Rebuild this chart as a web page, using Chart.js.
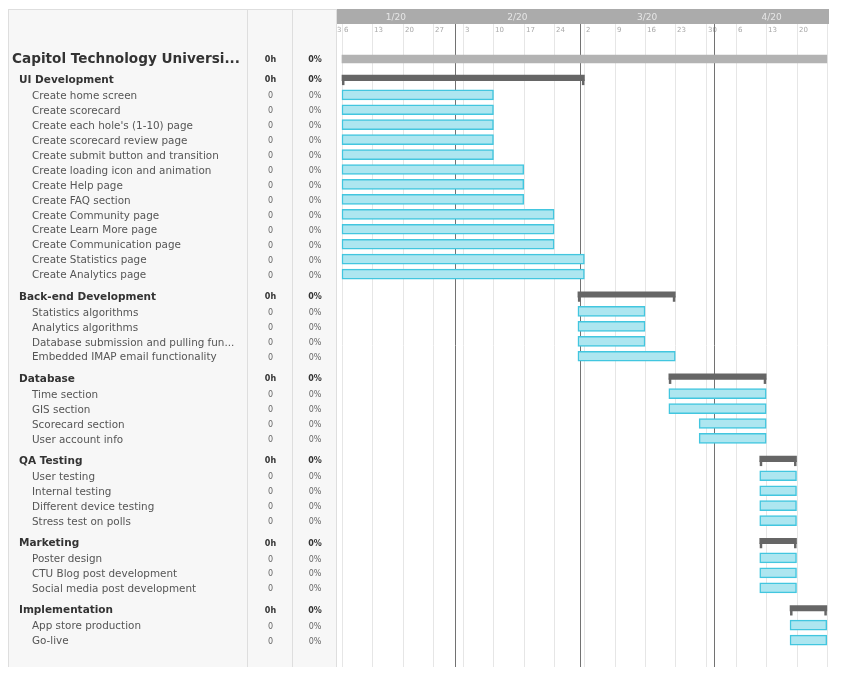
<!DOCTYPE html>
<html>
<head>
<meta charset="utf-8">
<script src="https://cdn.jsdelivr.net/npm/chart.js@4/dist/chart.umd.min.js"></script>
<style>
  html, body { margin: 0; padding: 0; background: #fff; }
  canvas { display: block; }
</style>
</head>
<body>
<canvas id="gantt" width="844" height="687"></canvas>
<script>
// all times are days since Mon 2020-01-06
const projectName = 'Capitol Technology Universi...';
const projectSpan = [0, 112];

const groupNames = ['UI Development', 'Back-end Development', 'Database', 'QA Testing', 'Marketing', 'Implementation'];
const groupStarts = [0, 54.5, 75.5, 96.5, 96.5, 103.5];
const groupEnds = [56, 77, 98, 105, 105, 112];

const taskNames = [
  ['Create home screen', 'Create scorecard', "Create each hole's (1-10) page", 'Create scorecard review page',
   'Create submit button and transition', 'Create loading icon and animation', 'Create Help page',
   'Create FAQ section', 'Create Community page', 'Create Learn More page', 'Create Communication page',
   'Create Statistics page', 'Create Analytics page'],
  ['Statistics algorithms', 'Analytics algorithms', 'Database submission and pulling fun...', 'Embedded IMAP email functionality'],
  ['Time section', 'GIS section', 'Scorecard section', 'User account info'],
  ['User testing', 'Internal testing', 'Different device testing', 'Stress test on polls'],
  ['Poster design', 'CTU Blog post development', 'Social media post development'],
  ['App store production', 'Go-live']
];
const taskStarts = [
  [0, 0, 0, 0, 0, 0, 0, 0, 0, 0, 0, 0, 0],
  [54.5, 54.5, 54.5, 54.5],
  [75.5, 75.5, 82.5, 82.5],
  [96.5, 96.5, 96.5, 96.5],
  [96.5, 96.5, 96.5],
  [103.5, 103.5]
];
const taskEnds = [
  [35, 35, 35, 35, 35, 42, 42, 42, 49, 49, 49, 56, 56],
  [70, 70, 70, 77],
  [98, 98, 98, 98],
  [105, 105, 105, 105],
  [105, 105, 105],
  [112, 112]
];
const hoursDone = 0;
const percentDone = 0;

// time header
const weekDays = [-7, 0, 7, 14, 21, 28, 35, 42, 49, 56, 63, 70, 77, 84, 91, 98, 105, 112];
const weekLabels = ['30', '6', '13', '20', '27', '3', '10', '17', '24', '2', '9', '16', '23', '30', '6', '13', '20', '27'];
const monthStarts = [-5, 26, 55, 86];
const monthLabels = ['1/20', '2/20', '3/20', '4/20'];

// row positions (in row units), groups separated by half a row extra
const rows = [];
rows.push({ kind: 'project', name: projectName, pos: 0 });
let pos = 0;
groupNames.forEach((g, gi) => {
  pos += gi === 0 ? 1.4 : 1.5;
  rows.push({ kind: 'group', name: g, pos: pos, gi: gi });
  taskNames[gi].forEach((t, ti) => {
    pos += 1;
    rows.push({ kind: 'task', name: t, pos: pos, gi: gi, ti: ti });
  });
});

const projectData = [{ x: projectSpan, y: 0 }];
const groupData = rows.filter(r => r.kind === 'group').map(r => ({ x: [groupStarts[r.gi], groupEnds[r.gi]], y: r.pos }));
const taskData = rows.filter(r => r.kind === 'task').map(r => ({ x: [taskStarts[r.gi][r.ti], taskEnds[r.gi][r.ti]], y: r.pos }));

const FONT = '"DejaVu Sans", "Noto Sans", sans-serif';
const TABLE = { left: 8, top: 9, right: 336, bottom: 667, col1: 247, col2: 292 };

const ganttPlugin = {
  id: 'gantt',
  beforeDraw(chart) {
    const ctx = chart.ctx;
    const area = chart.chartArea;
    const xs = chart.scales.x;
    ctx.save();
    // left table
    ctx.fillStyle = '#f7f7f7';
    ctx.fillRect(TABLE.left, TABLE.top, TABLE.right - TABLE.left, TABLE.bottom - TABLE.top);
    ctx.strokeStyle = '#dedede';
    ctx.lineWidth = 1;
    ctx.beginPath();
    ctx.moveTo(TABLE.left + 0.5, TABLE.top); ctx.lineTo(TABLE.left + 0.5, TABLE.bottom);
    ctx.moveTo(TABLE.left, TABLE.top + 0.5); ctx.lineTo(TABLE.right, TABLE.top + 0.5);
    ctx.moveTo(TABLE.col1 + 0.5, TABLE.top); ctx.lineTo(TABLE.col1 + 0.5, TABLE.bottom);
    ctx.moveTo(TABLE.col2 + 0.5, TABLE.top); ctx.lineTo(TABLE.col2 + 0.5, TABLE.bottom);
    ctx.moveTo(TABLE.right + 0.5, TABLE.top); ctx.lineTo(TABLE.right + 0.5, TABLE.bottom);
    ctx.stroke();

    // month band
    const bandTop = 9, bandBottom = 24;
    ctx.fillStyle = '#ababab';
    ctx.fillRect(area.left, bandTop, area.right - area.left, bandBottom - bandTop);
    ctx.font = '9px ' + FONT;
    ctx.fillStyle = '#e6e6e6';
    ctx.textAlign = 'center';
    ctx.textBaseline = 'middle';
    monthStarts.forEach((m, i) => {
      const a = Math.max(xs.getPixelForValue(m), area.left);
      const b = i + 1 < monthStarts.length ? xs.getPixelForValue(monthStarts[i + 1]) : area.right;
      ctx.fillText(monthLabels[i], (a + b) / 2, (bandTop + bandBottom) / 2 + 1);
    });

    // week grid + labels
    ctx.font = '7px ' + FONT;
    ctx.fillStyle = '#a8a8a8';
    ctx.textAlign = 'left';
    ctx.textBaseline = 'alphabetic';
    weekDays.forEach((d, i) => {
      const x = Math.round(xs.getPixelForValue(d)) + 0.5;
      if (x >= area.left && x <= area.right) {
        ctx.strokeStyle = '#e6e6e6';
        ctx.beginPath();
        ctx.moveTo(x, bandBottom); ctx.lineTo(x, area.bottom);
        ctx.stroke();
      }
      const next = i + 1 < weekDays.length ? xs.getPixelForValue(weekDays[i + 1]) : area.right;
      const lx = Math.max(x + 1.5, area.left);
      ctx.save();
      ctx.beginPath();
      ctx.rect(area.left, bandBottom, Math.min(next, area.right) - area.left, 14);
      ctx.clip();
      if (next > area.left) ctx.fillText(weekLabels[i], lx, 32);
      ctx.restore();
    });
    // month lines
    ctx.strokeStyle = '#727272';
    monthStarts.forEach(m => {
      const x = Math.round(xs.getPixelForValue(m)) + 0.5;
      if (x <= area.left || x >= area.right) return;
      ctx.beginPath();
      ctx.moveTo(x, bandBottom); ctx.lineTo(x, area.bottom);
      ctx.stroke();
    });
    ctx.restore();
  },
  beforeDatasetDraw(chart, args) {
    if (args.index === 1) {
      chart.ctx.save();
      chart.ctx.translate(0, -2);
    }
  },
  afterDatasetDraw(chart, args) {
    if (args.index !== 1) return;
    // hanging end caps of the summary bars
    const ctx = chart.ctx;
    ctx.fillStyle = '#666666';
    args.meta.data.forEach(bar => {
      const p = bar.getProps(['x', 'y', 'base', 'height'], true);
      const l = Math.min(p.x, p.base), r = Math.max(p.x, p.base);
      const top = p.y + p.height / 2;
      ctx.fillRect(l, top - 1, 2.5, 5.5);
      ctx.fillRect(r - 2.5, top - 1, 2.5, 5.5);
    });
    ctx.restore();
  },
  afterDraw(chart) {
    const ctx = chart.ctx;
    const ys = chart.scales.y;
    const c1 = (TABLE.col1 + TABLE.col2) / 2 + 1;
    const c2 = (TABLE.col2 + TABLE.right) / 2 + 1;
    ctx.save();
    ctx.textBaseline = 'middle';
    rows.forEach(r => {
      const y = ys.getPixelForValue(r.pos) + 0.5;
      if (r.kind === 'project') {
        ctx.fillStyle = '#333333';
        ctx.textAlign = 'left';
        ctx.font = 'bold 13.6px ' + FONT;
        ctx.fillText(r.name, 12, y + 0.5);
        ctx.font = 'bold 8px ' + FONT;
        ctx.textAlign = 'center';
        ctx.fillText(hoursDone + 'h', c1, y);
        ctx.fillText(percentDone + '%', c2, y);
      } else if (r.kind === 'group') {
        ctx.fillStyle = '#333333';
        ctx.textAlign = 'left';
        ctx.font = 'bold 10.5px ' + FONT;
        ctx.fillText(r.name, 19, y);
        ctx.font = 'bold 8px ' + FONT;
        ctx.textAlign = 'center';
        ctx.fillText(hoursDone + 'h', c1, y);
        ctx.fillText(percentDone + '%', c2, y);
      } else {
        ctx.fillStyle = '#555555';
        ctx.textAlign = 'left';
        ctx.font = '10.4px ' + FONT;
        ctx.fillText(r.name, 32, y + 1);
        ctx.fillStyle = '#666666';
        ctx.font = '8px ' + FONT;
        ctx.textAlign = 'center';
        ctx.fillText(String(hoursDone), c1, y + 1);
        ctx.fillText(percentDone + '%', c2, y + 1);
      }
    });
    ctx.restore();
  }
};

new Chart(document.getElementById('gantt'), {
  type: 'bar',
  data: {
    datasets: [
      {
        label: 'Project',
        data: projectData,
        backgroundColor: '#b3b3b3',
        borderWidth: 0,
        barThickness: 8,
      },
      {
        label: 'Groups',
        data: groupData,
        backgroundColor: '#666666',
        borderWidth: 0,
        barThickness: 5.5,
      },
      {
        label: 'Tasks',
        data: taskData,
        backgroundColor: '#ade6f0',
        borderColor: '#42c6df',
        borderWidth: 1.5,
        borderSkipped: false,
        barThickness: 10,
      },
    ],
  },
  options: {
    indexAxis: 'y',
    responsive: false,
    animation: false,
    layout: { padding: { left: 337, top: 37, right: 15, bottom: 20 } },
    plugins: { legend: { display: false }, tooltip: { enabled: false } },
    datasets: { bar: { grouped: false } },
    scales: {
      x: { type: 'linear', min: -1.15, max: 112.5, display: false, offset: false },
      y: { type: 'linear', min: -1.47, max: 40.7, reverse: true, display: false, offset: false },
    },
  },
  plugins: [ganttPlugin],
});
</script>
</body>
</html>
